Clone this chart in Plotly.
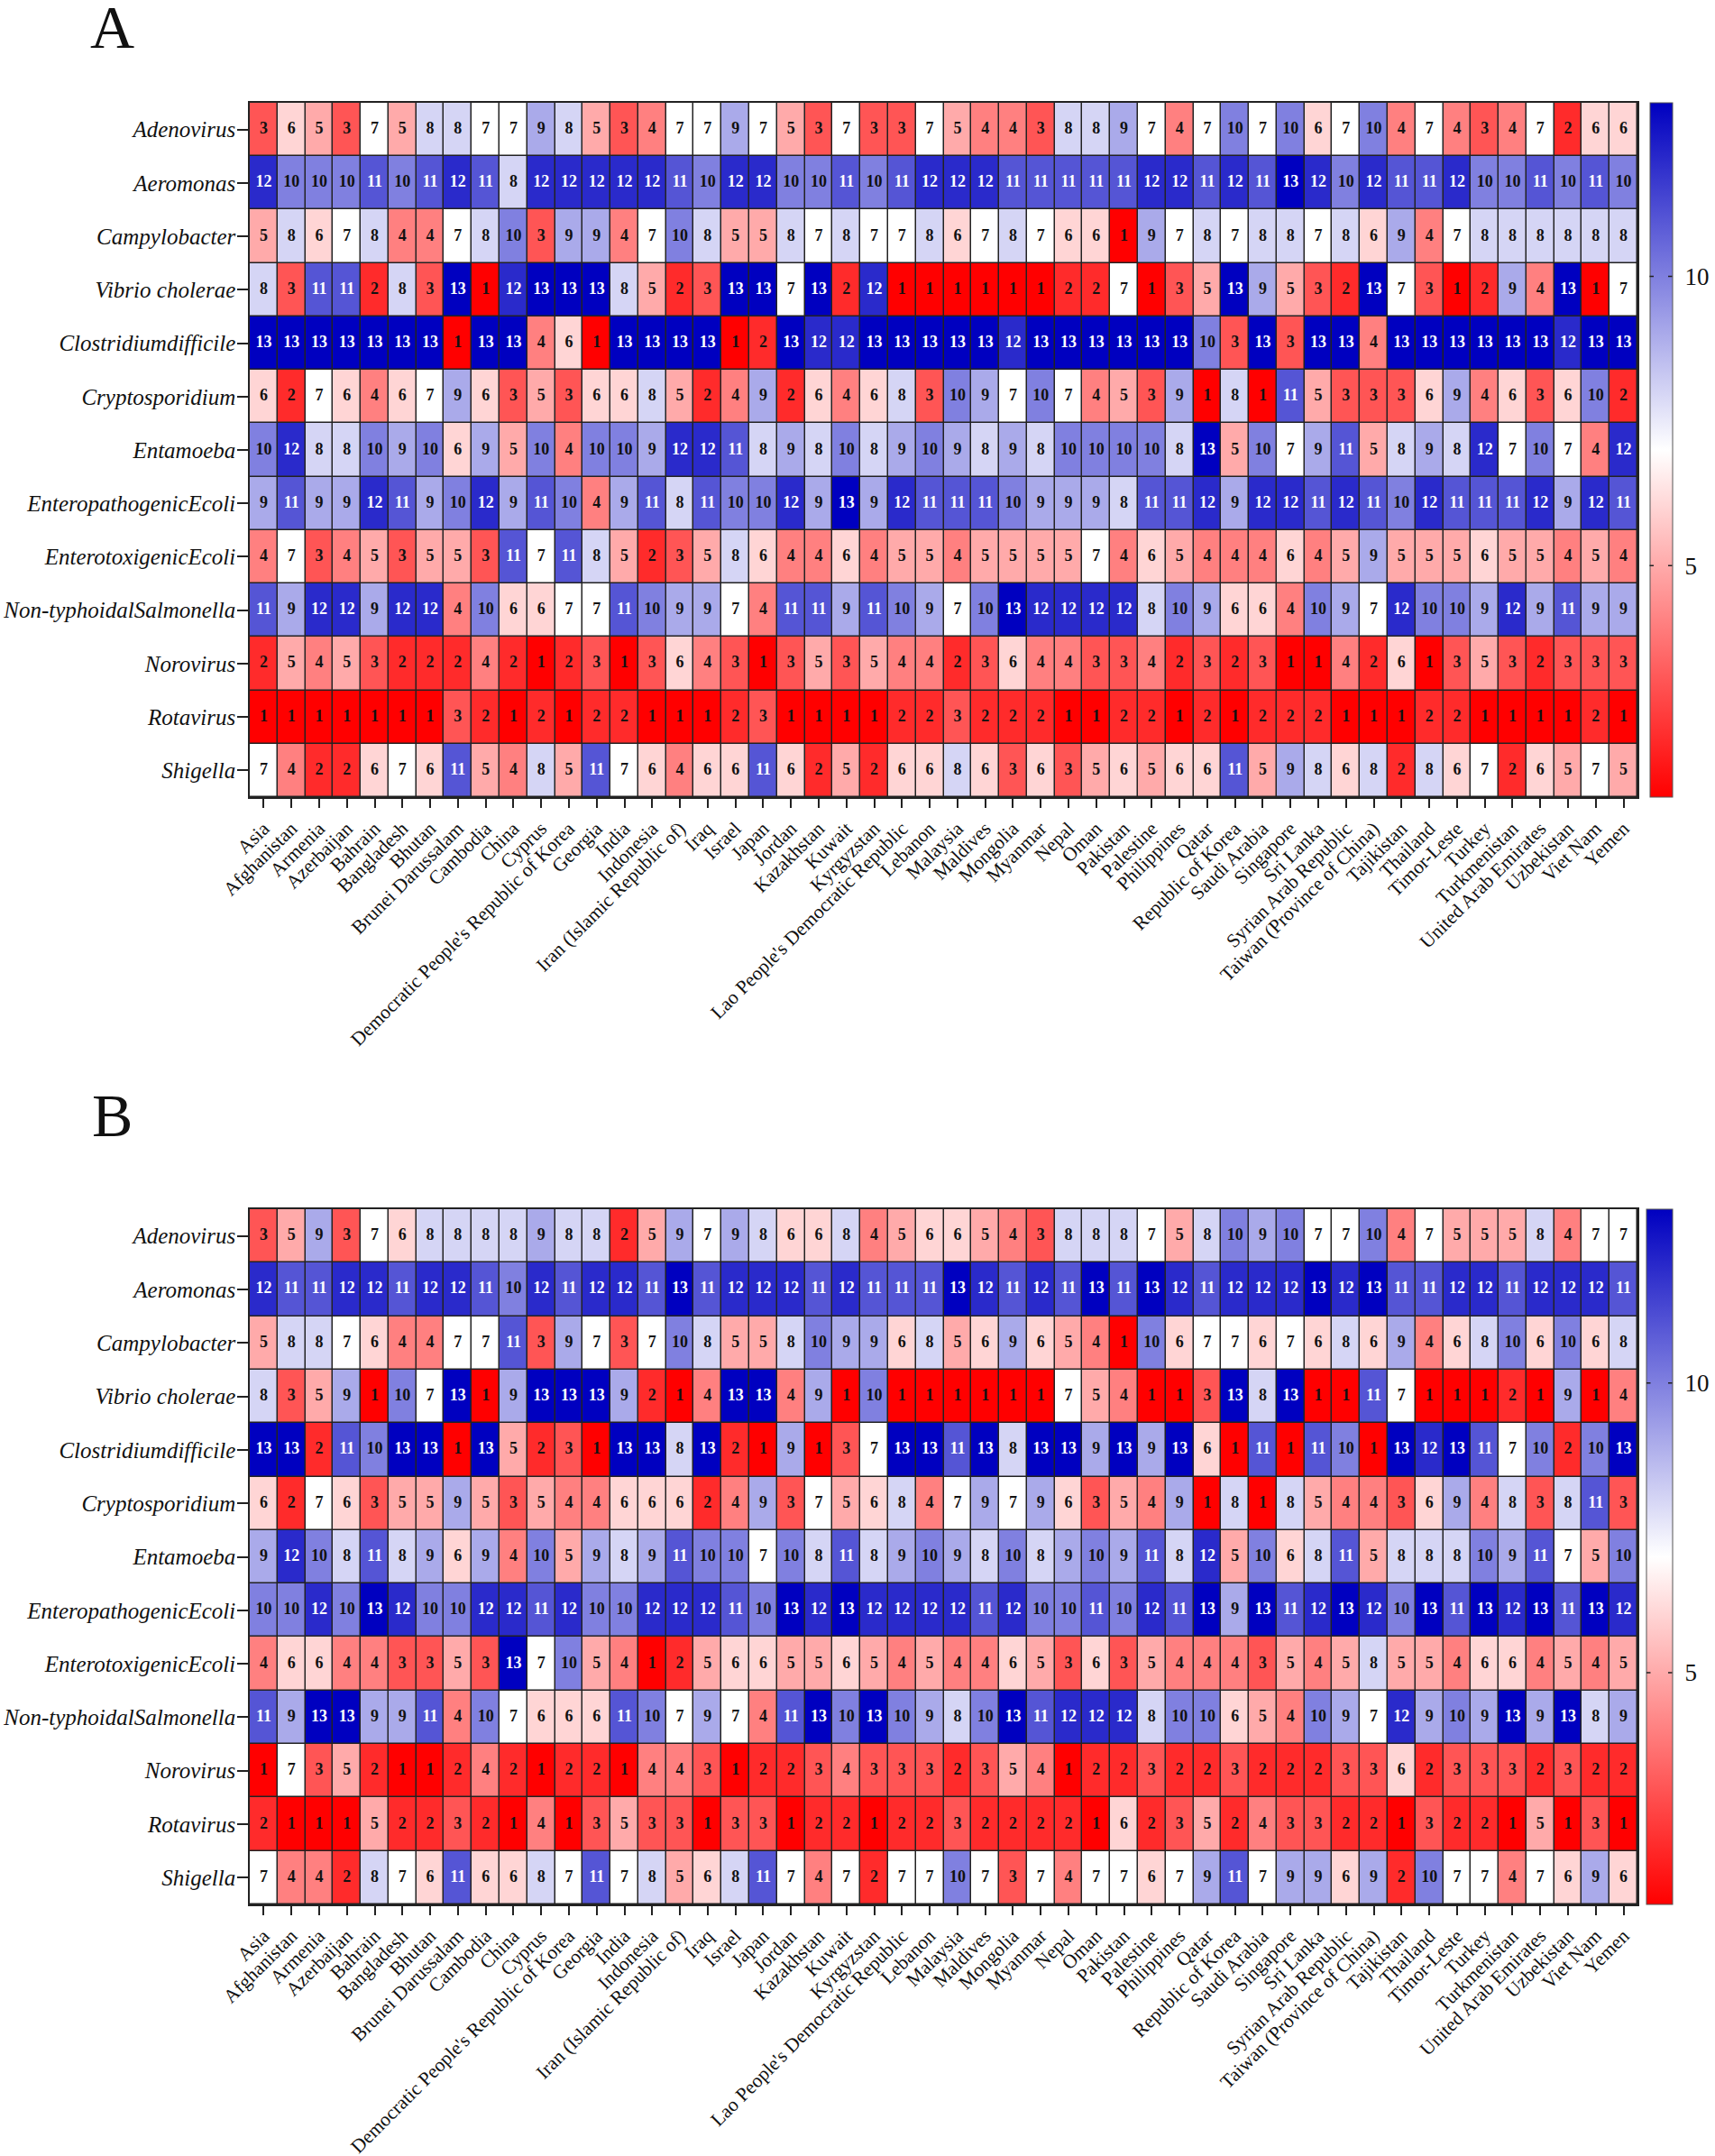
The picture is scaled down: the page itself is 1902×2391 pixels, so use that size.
import plotly.graph_objects as go

countries = ["Asia", "Afghanistan", "Armenia", "Azerbaijan", "Bahrain", "Bangladesh", "Bhutan", "Brunei Darussalam",
             "Cambodia", "China", "Cyprus", "Democratic People's Republic of Korea", "Georgia", "India", "Indonesia",
             "Iran (Islamic Republic of)", "Iraq", "Israel", "Japan", "Jordan", "Kazakhstan", "Kuwait", "Kyrgyzstan",
             "Lao People's Democratic Republic", "Lebanon", "Malaysia", "Maldives", "Mongolia", "Myanmar", "Nepal",
             "Oman", "Pakistan", "Palestine", "Philippines", "Qatar", "Republic of Korea", "Saudi Arabia", "Singapore",
             "Sri Lanka", "Syrian Arab Republic", "Taiwan (Province of China)", "Tajikistan", "Thailand", "Timor-Leste",
             "Turkey", "Turkmenistan", "United Arab Emirates", "Uzbekistan", "Viet Nam", "Yemen"]

pathogens = ["Adenovirus", "Aeromonas", "Campylobacter", "Vibrio cholerae", "Clostridiumdifficile", "Cryptosporidium",
             "Entamoeba", "EnteropathogenicEcoli", "EnterotoxigenicEcoli", "Non-typhoidalSalmonella", "Norovirus",
             "Rotavirus", "Shigella"]

# panel A
a_adenovirus = [3,6,5,3,7,5,8,8,7,7,9,8, 5,3,4,7,7,9,7,5,3,7,3,3,7,5,4,4,3,8,8,9,7, 4,7,10,7,10,6,7,10,4,7,4,3,4,7,2,6,6]
a_aeromonas = [12,10,10,10,11,10,11,12,11,8,12,12, 12,12,12,11,10,12,12,10,10,11,10,11,12,12,12,11,11,11,11,11,12, 12,11,12,11,13,12,10,12,11,11,12,10,10,11,10,11,10]
a_campylobacter = [5,8,6,7,8,4,4,7,8,10,3,9, 9,4,7,10,8,5,5,8,7,8,7,7,8,6,7,8,7,6,6,1,9, 7,8,7,8,8,7,8,6,9,4,7,8,8,8,8,8,8]
a_vibrio = [8,3,11,11,2,8,3,13,1,12,13,13, 13,8,5,2,3,13,13,7,13,2,12,1,1,1,1,1,1,2,2,7,1, 3,5,13,9,5,3,2,13,7,3,1,2,9,4,13,1,7]
a_clostridium = [13,13,13,13,13,13,13,1,13,13,4,6, 1,13,13,13,13,1,2,13,12,12,13,13,13,13,13,12,13,13,13,13,13, 13,10,3,13,3,13,13,4,13,13,13,13,13,13,12,13,13]
a_crypto = [6,2,7,6,4,6,7,9,6,3,5,3, 6,6,8,5,2,4,9,2,6,4,6,8,3,10,9,7,10,7,4,5,3, 9,1,8,1,11,5,3,3,3,6,9,4,6,3,6,10,2]
a_entamoeba = [10,12,8,8,10,9,10,6,9,5,10,4, 10,10,9,12,12,11,8,9,8,10,8,9,10,9,8,9,8,10,10,10,10, 8,13,5,10,7,9,11,5,8,9,8,12,7,10,7,4,12]
a_epec = [9,11,9,9,12,11,9,10,12,9,11,10, 4,9,11,8,11,10,10,12,9,13,9,12,11,11,11,10,9,9,9,8,11, 11,12,9,12,12,11,12,11,10,12,11,11,11,12,9,12,11]
a_etec = [4,7,3,4,5,3,5,5,3,11,7,11, 8,5,2,3,5,8,6,4,4,6,4,5,5,4,5,5,5,5,7,4,6, 5,4,4,4,6,4,5,9,5,5,5,6,5,5,4,5,4]
a_salmonella = [11,9,12,12,9,12,12,4,10,6,6,7, 7,11,10,9,9,7,4,11,11,9,11,10,9,7,10,13,12,12,12,12,8, 10,9,6,6,4,10,9,7,12,10,10,9,12,9,11,9,9]
a_norovirus = [2,5,4,5,3,2,2,2,4,2,1,2, 3,1,3,6,4,3,1,3,5,3,5,4,4,2,3,6,4,4,3,3,4, 2,3,2,3,1,1,4,2,6,1,3,5,3,2,3,3,3]
a_rotavirus = [1,1,1,1,1,1,1,3,2,1,2,1, 2,2,1,1,1,2,3,1,1,1,1,2,2,3,2,2,2,1,1,2,2, 1,2,1,2,2,2,1,1,1,2,2,1,1,1,1,2,1]
a_shigella = [7,4,2,2,6,7,6,11,5,4,8,5, 11,7,6,4,6,6,11,6,2,5,2,6,6,8,6,3,6,3,5,6,5, 6,6,11,5,9,8,6,8,2,8,6,7,2,6,5,7,5]

# panel B
b_adenovirus = [3,5,9,3,7,6,8,8,8,8,9,8, 8,2,5,9,7,9,8,6,6,8,4,5,6,6,5,4,3,8,8,8,7, 5,8,10,9,10,7,7,10,4,7,5,5,5,8,4,7,7]
b_aeromonas = [12,11,11,12,12,11,12,12,11,10,12,11, 12,12,11,13,11,12,12,12,11,12,11,11,11,13,12,11,12,11,13,11,13, 12,11,12,12,12,13,12,13,11,11,12,12,11,12,12,12,11]
b_campylobacter = [5,8,8,7,6,4,4,7,7,11,3,9, 7,3,7,10,8,5,5,8,10,9,9,6,8,5,6,9,6,5,4,1,10, 6,7,7,6,7,6,8,6,9,4,6,8,10,6,10,6,8]
b_vibrio = [8,3,5,9,1,10,7,13,1,9,13,13, 13,9,2,1,4,13,13,4,9,1,10,1,1,1,1,1,1,7,5,4,1, 1,3,13,8,13,1,1,11,7,1,1,1,2,1,9,1,4]
b_clostridium = [13,13,2,11,10,13,13,1,13,5,2,3, 1,13,13,8,13,2,1,9,1,3,7,13,13,11,13,8,13,13,9,13,9, 13,6,1,11,1,11,10,1,13,12,13,11,7,10,2,10,13]
b_crypto = [6,2,7,6,3,5,5,9,5,3,5,4, 4,6,6,6,2,4,9,3,7,5,6,8,4,7,9,7,9,6,3,5,4, 9,1,8,1,8,5,4,4,3,6,9,4,8,3,8,11,3]
b_entamoeba = [9,12,10,8,11,8,9,6,9,4,10,5, 9,8,9,11,10,10,7,10,8,11,8,9,10,9,8,10,8,9,10,9,11, 8,12,5,10,6,8,11,5,8,8,8,10,9,11,7,5,10]
b_epec = [10,10,12,10,13,12,10,10,12,12,11,12, 10,10,12,12,12,11,10,13,12,13,12,12,12,12,11,12,10,10,11,10,12, 11,13,9,13,11,12,13,12,10,13,11,13,12,13,11,13,12]
b_etec = [4,6,6,4,4,3,3,5,3,13,7,10, 5,4,1,2,5,6,6,5,5,6,5,4,5,4,4,6,5,3,6,3,5, 4,4,4,3,5,4,5,8,5,5,4,6,6,4,5,4,5]
b_salmonella = [11,9,13,13,9,9,11,4,10,7,6,6, 6,11,10,7,9,7,4,11,13,10,13,10,9,8,10,13,11,12,12,12,8, 10,10,6,5,4,10,9,7,12,9,10,9,13,9,13,8,9]
b_norovirus = [1,7,3,5,2,1,1,2,4,2,1,2, 2,1,4,4,3,1,2,2,3,4,3,3,3,2,3,5,4,1,2,2,3, 2,2,3,2,2,2,3,3,6,2,3,3,3,2,3,2,2]
b_rotavirus = [2,1,1,1,5,2,2,3,2,1,4,1, 3,5,3,3,1,3,3,1,2,2,1,2,2,3,2,2,2,2,1,6,2, 3,5,2,4,3,3,2,2,1,3,2,2,1,5,1,3,1]
b_shigella = [7,4,4,2,8,7,6,11,6,6,8,7, 11,7,8,5,6,8,11,7,4,7,2,7,7,10,7,3,7,4,7,7,6, 7,9,11,7,9,9,6,9,2,10,7,7,4,7,6,9,6]

panel_a = [a_adenovirus, a_aeromonas, a_campylobacter, a_vibrio, a_clostridium, a_crypto, a_entamoeba,
           a_epec, a_etec, a_salmonella, a_norovirus, a_rotavirus, a_shigella]
panel_b = [b_adenovirus, b_aeromonas, b_campylobacter, b_vibrio, b_clostridium, b_crypto, b_entamoeba,
           b_epec, b_etec, b_salmonella, b_norovirus, b_rotavirus, b_shigella]

W, H = 1902, 2391
SERIF = "Liberation Serif"
scale = [[0, "#ff0000"], [0.5, "#ffffff"], [1, "#0000c0"]]


def add_panel(fig, z, n, top, bottom, cb_left, cb_right):
    xa, ya = ("x", "y") if n == 1 else (f"x{n}", f"y{n}")
    fig.add_trace(go.Heatmap(
        z=z, x=countries, y=pathogens, xaxis=xa, yaxis=ya,
        colorscale=scale, zmin=1, zmax=13, xgap=1.5, ygap=1.5, hoverongaps=False,
        colorbar=dict(x=cb_left / W, xanchor="left", xpad=0, ypad=0, y=1 - top / H, yanchor="top",
                      len=(bottom - top) / H, thickness=cb_right - cb_left,
                      outlinecolor="#555555", outlinewidth=1,
                      tickmode="array", tickvals=[5, 10], ticktext=["5", "10"],
                      ticks="outside", ticklen=8, tickcolor="rgba(0,0,0,0)",
                      tickfont=dict(family=SERIF, size=27, color="#111111")),
    ))
    # cell numbers, white on the dark blue cells
    xs, ys, labels, colors = [], [], [], []
    for name, row in zip(pathogens, z):
        for country, v in zip(countries, row):
            xs.append(country)
            ys.append(name)
            labels.append(str(v))
            colors.append("white" if v >= 11 else "#111111")
    fig.add_trace(go.Scatter(x=xs, y=ys, xaxis=xa, yaxis=ya, mode="text", text=labels, hoverinfo="skip",
                             showlegend=False, textposition="middle center",
                             textfont=dict(family=SERIF, size=18, color=colors, weight="bold")))
    axis_x = dict(domain=[277 / W, 1816 / W], anchor=ya, type="category", categoryorder="array",
                  categoryarray=countries, range=[-0.5, len(countries) - 0.5], tickangle=-45, automargin=False,
                  ticks="outside", ticklen=10, tickwidth=1.5, ticklabelstandoff=2,
                  tickcolor="#222222", showline=True, linecolor="#222222", linewidth=1.5, mirror=True,
                  showgrid=False, zeroline=False, tickfont=dict(family=SERIF, size=21.5, color="#111111"))
    axis_y = dict(domain=[1 - bottom / H, 1 - top / H], anchor=xa, type="category", categoryorder="array",
                  categoryarray=pathogens, range=[len(pathogens) - 0.5, -0.5], ticks="outside", ticklen=12,
                  ticklabelstandoff=-3, automargin=False, tickwidth=1.5, tickcolor="#222222", showline=True,
                  linecolor="#222222", linewidth=1.5, mirror=True, showgrid=False, zeroline=False,
                  tickfont=dict(family=SERIF, size=25, color="#111111", style="italic"))
    fig.update_layout({"xaxis" if n == 1 else f"xaxis{n}": axis_x, "yaxis" if n == 1 else f"yaxis{n}": axis_y})
    # colorbar tick dashes on both edges of the bar, as arrows because shapes end up under the colorbar
    for tick in [5, 10]:
        y_px = bottom - (tick - 1) / 12 * (bottom - top)
        for x_px, ax in [(cb_left, 6), (cb_right, -6)]:
            fig.add_annotation(text="", xref="paper", yref="paper", x=x_px / W, y=1 - y_px / H, ax=ax, ay=0,
                               showarrow=True, arrowhead=0, arrowwidth=1.5, arrowcolor="#222222", standoff=0)


fig = go.Figure()
add_panel(fig, panel_a, 1, 114, 884, 1829.5, 1854.5)
add_panel(fig, panel_b, 2, 1341, 2112, 1826, 1854.5)

for letter, x_px, y_px in [("A", 98, 30), ("B", 100, 1237)]:
    fig.add_annotation(text=letter, xref="paper", yref="paper", x=x_px / W, y=1 - y_px / H, showarrow=False,
                       xanchor="left", yanchor="middle", font=dict(family=SERIF, size=68, color="#111111"))

fig.update_layout(width=W, height=H, margin=dict(l=0, r=0, t=0, b=0), showlegend=False,
                  paper_bgcolor="white", plot_bgcolor="#222222")
fig.write_html("out.html", config={"displayModeBar": False}, post_script="document.body.style.margin = '0';")
